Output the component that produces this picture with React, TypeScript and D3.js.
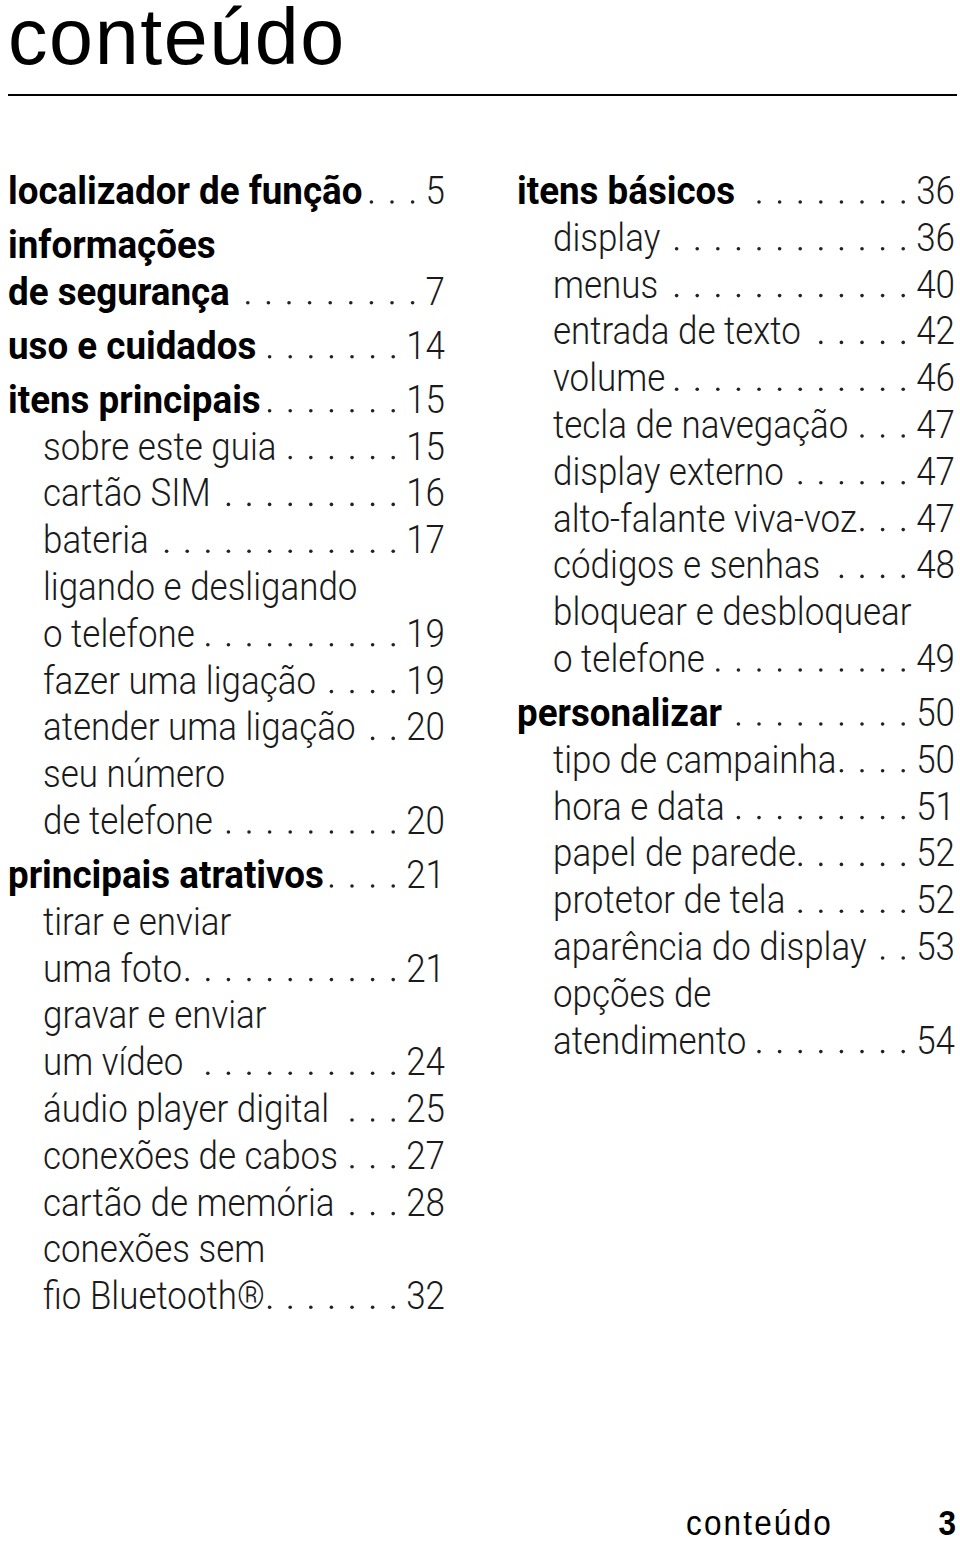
import React, { useEffect, useRef } from "react";
import * as d3 from "d3";

// conteúdo do índice - coluna esquerda
const leftTitles = [
  "localizador de função",
  "informações\nde segurança",
  "uso e cuidados",
  "itens principais",
  "sobre este guia",
  "cartão SIM",
  "bateria",
  "ligando e desligando\no telefone",
  "fazer uma ligação",
  "atender uma ligação",
  "seu número\nde telefone",
  "principais atrativos",
  "tirar e enviar\numa foto",
  "gravar e enviar\num vídeo",
  "áudio player digital",
  "conexões de cabos",
  "cartão de memória",
  "conexões sem\nfio Bluetooth®",
];
const leftLevels = [0, 0, 0, 0, 1, 1, 1, 1, 1, 1, 1, 0, 1, 1, 1, 1, 1, 1];
const leftPages = ["5", "7", "14", "15", "15", "16", "17", "19", "19", "20", "20", "21", "21", "24", "25", "27", "28", "32"];

// coluna direita
const rightTitles = [
  "itens básicos",
  "display",
  "menus",
  "entrada de texto",
  "volume",
  "tecla de navegação",
  "display externo",
  "alto-falante viva-voz",
  "códigos e senhas",
  "bloquear e desbloquear\no telefone",
  "personalizar",
  "tipo de campainha",
  "hora e data",
  "papel de parede",
  "protetor de tela",
  "aparência do display",
  "opções de\natendimento",
];
const rightLevels = [0, 1, 1, 1, 1, 1, 1, 1, 1, 1, 0, 1, 1, 1, 1, 1, 1];
const rightPages = ["36", "36", "40", "42", "46", "47", "47", "47", "48", "49", "50", "50", "51", "52", "52", "53", "54"];

const pageTitle = "conteúdo";
const footerLabel = "conteúdo";
const footerPage = "3";

const W = 960;
const H = 1545;
const FONT = "Roboto, 'Open Sans', sans-serif";
const SANS = "'Liberation Sans', Arial, sans-serif";
const FS = 38;
const SX = 0.92; // regular, condensed look
const SX_BOLD = 0.967;
const LINE = 46.8;
const HEAD_GAP = 7.2;
const DOT_PITCH = 20.6;

function drawColumn(svg, titles, levels, pages, x0, indent, xRight, yTop) {
  const y = d3.scaleLinear().domain([0, 1]).range([yTop, yTop + LINE]);
  const g = svg.append("g");
  let line = 0;
  let gaps = 0;

  titles.forEach((t, i) => {
    if (i > 0 && levels[i] === 0) gaps++;
    const parts = t.split("\n");
    const bold = levels[i] === 0;
    const sx = bold ? SX_BOLD : SX;
    const x = bold ? x0 : x0 + indent;
    let lastEnd = x;
    let yb = 0;
    parts.forEach((p) => {
      yb = y(line) + gaps * HEAD_GAP;
      const txt = g
        .append("text")
        .attr("transform", `translate(${x},${yb}) scale(${sx},1)`)
        .attr("font-family", FONT)
        .attr("font-size", FS)
        .attr("font-weight", bold ? 700 : 300)
        .attr("fill", bold ? "#000" : "#1a1a1a")
        .text(p);
      lastEnd = x + txt.node().getComputedTextLength() * sx;
      line++;
    });

    const num = g
      .append("text")
      .attr("transform", `translate(${xRight},${yb}) scale(${SX},1)`)
      .attr("font-family", FONT)
      .attr("font-size", FS)
      .attr("font-weight", 300)
      .attr("text-anchor", "end")
      .attr("fill", "#1a1a1a")
      .text(pages[i]);
    const numStart = xRight - num.node().getComputedTextLength() * SX;

    // pontilhado alinhado pela direita
    const dots = [];
    for (let dx = numStart - 13; dx >= lastEnd + 4; dx -= DOT_PITCH) dots.push(dx);
    g.selectAll(null)
      .data(dots)
      .enter()
      .append("circle")
      .attr("cx", (d) => d)
      .attr("cy", yb - 2)
      .attr("r", 1.8)
      .attr("fill", "#222");
  });
}

export default function App() {
  const ref = useRef(null);

  useEffect(() => {
    const svg = d3.select(ref.current);
    svg.selectAll("*").remove();

    svg.append("rect").attr("width", W).attr("height", H).attr("fill", "#fff");

    svg
      .append("text")
      .attr("x", 8)
      .attr("y", 64)
      .attr("font-family", SANS)
      .attr("font-size", 79)
      .attr("letter-spacing", 1.6)
      .attr("fill", "#000")
      .text(pageTitle);

    svg
      .append("line")
      .attr("x1", 8)
      .attr("x2", 957)
      .attr("y1", 95)
      .attr("y2", 95)
      .attr("stroke", "#000")
      .attr("stroke-width", 2);

    drawColumn(svg, leftTitles, leftLevels, leftPages, 8, 35, 445, 204);
    drawColumn(svg, rightTitles, rightLevels, rightPages, 517, 36, 955, 204);

    svg
      .append("text")
      .attr("transform", "translate(686,1535) scale(0.9,1)")
      .attr("font-family", SANS)
      .attr("font-size", 35)
      .attr("letter-spacing", 2.4)
      .attr("fill", "#000")
      .text(footerLabel);

    svg
      .append("text")
      .attr("transform", "translate(956,1535) scale(0.9,1)")
      .attr("text-anchor", "end")
      .attr("font-family", SANS)
      .attr("font-size", 35)
      .attr("font-weight", 700)
      .attr("fill", "#000")
      .text(footerPage);
  }, []);

  return (
    <svg
      ref={ref}
      width={W}
      height={H}
      style={{ position: "absolute", left: 0, top: 0, display: "block" }}
    />
  );
}
